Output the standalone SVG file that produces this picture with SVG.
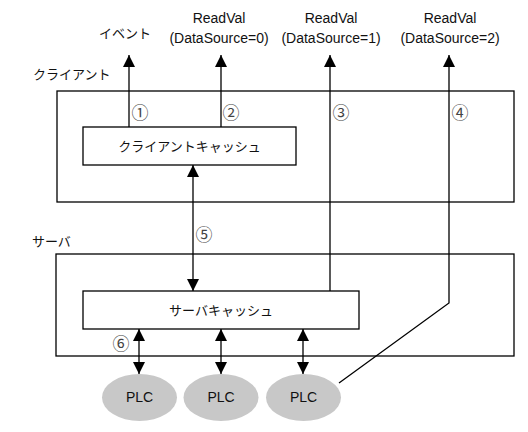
<svg xmlns="http://www.w3.org/2000/svg" width="528" height="432" viewBox="0 0 528 432">
<style>
.box{fill:#fff;stroke:#000;stroke-width:1.3}
.ln{stroke:#000;stroke-width:1.3;fill:none}
.t{font-family:"Liberation Sans","Noto Sans CJK JP",sans-serif;font-size:14px;fill:#111}
.j{font-family:"Noto Sans CJK JP","Liberation Sans",sans-serif;font-size:13px;fill:#111}
.n{font-family:"Noto Sans CJK JP",sans-serif;font-size:17px;fill:#444}
.plc{fill:#c8c8c8;stroke:none}
</style>
<defs>
<marker id="ah" viewBox="0 0 12 13" refX="13" refY="6.5" markerWidth="13" markerHeight="12" markerUnits="userSpaceOnUse" orient="auto-start-reverse">
<path d="M0,0 L13,6.5 L0,13 z" fill="#000"/>
</marker>
</defs>
<g id="client">
<rect class="box" x="57" y="91" width="457" height="111"/>
<text class="j" x="33" y="79">クライアント</text>
</g>
<g id="server">
<rect class="box" x="56" y="254" width="458" height="102"/>
<text class="j" x="32" y="246">サーバ</text>
</g>
<g id="client-cache">
<rect class="box" x="83" y="127" width="213" height="38"/>
<text class="j" x="189.5" y="151" font-size="13.6" text-anchor="middle">クライアントキャッシュ</text>
</g>
<g id="server-cache">
<rect class="box" x="83" y="291" width="276" height="38"/>
<text class="j" x="221" y="315" font-size="13.6" text-anchor="middle">サーバキャッシュ</text>
</g>
<g id="plc1"><ellipse class="plc" cx="139.5" cy="397.5" rx="37.5" ry="23.5"/><text class="t" x="139.5" y="402" font-size="13" text-anchor="middle">PLC</text></g>
<g id="plc2"><ellipse class="plc" cx="221" cy="397.5" rx="37.5" ry="23.5"/><text class="t" x="221" y="402" font-size="13" text-anchor="middle">PLC</text></g>
<g id="plc3"><ellipse class="plc" cx="303.5" cy="397.5" rx="37.5" ry="23.5"/><text class="t" x="303.5" y="402" font-size="13" text-anchor="middle">PLC</text></g>
<g id="out-event"><text class="j" x="125" y="38" text-anchor="middle">イベント</text></g>
<g id="out-0"><text class="t" x="219" y="23" text-anchor="middle">ReadVal</text><text class="t" x="219" y="43" text-anchor="middle">(DataSource=0)</text></g>
<g id="out-1"><text class="t" x="331" y="23" text-anchor="middle">ReadVal</text><text class="t" x="331" y="43" text-anchor="middle">(DataSource=1)</text></g>
<g id="out-2"><text class="t" x="450" y="23" text-anchor="middle">ReadVal</text><text class="t" x="450" y="43" text-anchor="middle">(DataSource=2)</text></g>
<g id="connectors">
<line class="ln" x1="129" y1="127" x2="129" y2="55" marker-end="url(#ah)"/>
<line class="ln" x1="221" y1="127" x2="221" y2="55" marker-end="url(#ah)"/>
<line class="ln" x1="330" y1="291" x2="330" y2="55" marker-end="url(#ah)"/>
<polyline class="ln" points="339,383 449,303 449,55" marker-end="url(#ah)"/>
<line class="ln" x1="193" y1="165" x2="193" y2="291" marker-start="url(#ah)" marker-end="url(#ah)"/>
<line class="ln" x1="139" y1="329" x2="139" y2="374" marker-start="url(#ah)" marker-end="url(#ah)"/>
<line class="ln" x1="221" y1="329" x2="221" y2="374" marker-start="url(#ah)" marker-end="url(#ah)"/>
<line class="ln" x1="303" y1="329" x2="303" y2="374" marker-start="url(#ah)" marker-end="url(#ah)"/>
<text class="n" x="140" y="119" text-anchor="middle">①</text>
<text class="n" x="231" y="119" text-anchor="middle">②</text>
<text class="n" x="341" y="119" text-anchor="middle">③</text>
<text class="n" x="460" y="119" text-anchor="middle">④</text>
<text class="n" x="204" y="241" text-anchor="middle">⑤</text>
<text class="n" x="121" y="350" text-anchor="middle">⑥</text>
</g>
</svg>
